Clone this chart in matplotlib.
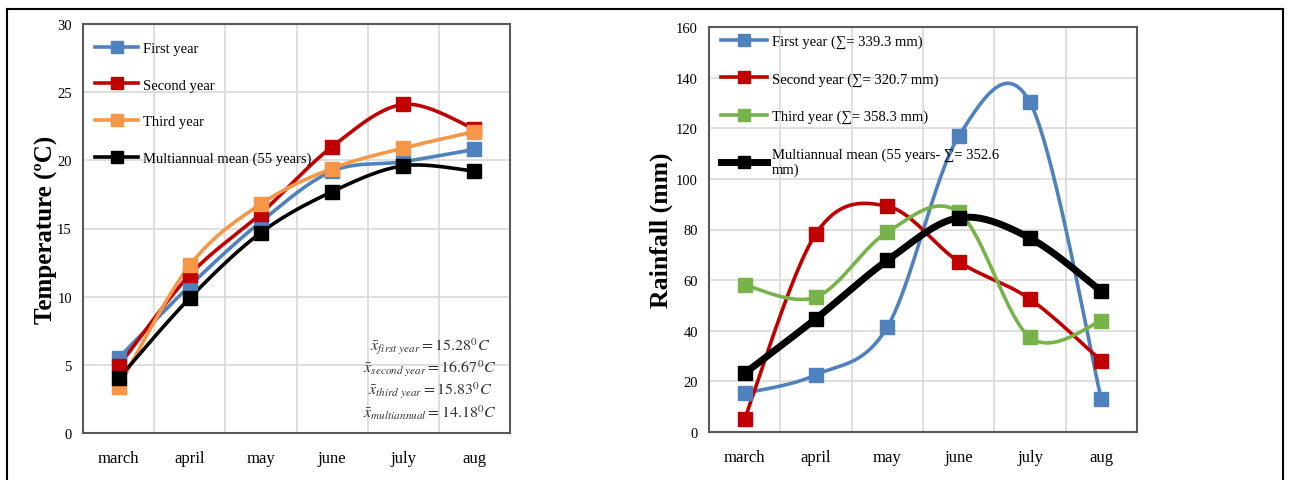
import numpy as np
import matplotlib
matplotlib.use("Agg")
import matplotlib.pyplot as plt
from matplotlib.lines import Line2D

months = ["march", "april", "may", "june", "july", "aug"]

temp_first = [5.5, 10.8, 15.5, 19.2, 19.9, 20.8]
temp_second = [4.9, 11.6, 16.1, 21.0, 24.1, 22.3]
temp_third = [3.4, 12.3, 16.8, 19.4, 20.9, 22.1]
temp_mean = [4.0, 9.9, 14.7, 17.7, 19.6, 19.2]

rain_first = [15.3, 22.6, 41.5, 116.8, 130.2, 12.9]
rain_second = [5.2, 78.4, 89.2, 67.3, 52.5, 28.1]
rain_third = [58.0, 53.3, 79.0, 86.8, 37.4, 43.8]
rain_mean = [23.2, 44.8, 67.8, 84.6, 76.6, 55.6]

temp_labels = ["First year", "Second year", "Third year", "Multiannual mean (55 years)"]
rain_labels = ["First year (\u2211= 339.3 mm)", "Second year (\u2211= 320.7 mm)",
               "Third year (\u2211= 358.3 mm)", "Multiannual mean (55 years- \u2211= 352.6\nmm)"]
temp_notes = [r"$\bar{x}_{first\ year} = 15.28^0C$",
              r"$\bar{x}_{second\ year} = 16.67^0C$",
              r"$\bar{x}_{third\ year} = 15.83^0C$",
              r"$\bar{x}_{multiannual} = 14.18^0C$"]

BLUE = "#4f81bd"
RED = "#c00000"
ORANGE = "#f79646"
GREEN = "#77b24a"
BLACK = "#000000"

plt.rcParams["font.family"] = ["Liberation Serif", "DejaVu Serif"]
plt.rcParams["mathtext.fontset"] = "stix"


def smooth(y, n=40):
    # excel-like smoothed line (catmull-rom bezier)
    x = np.arange(len(y), dtype=float)
    y = np.asarray(y, dtype=float)
    px = np.concatenate([[x[0]], x, [x[-1]]])
    py = np.concatenate([[y[0]], y, [y[-1]]])
    xs, ys = [], []
    t = np.linspace(0, 1, n)
    for i in range(len(y) - 1):
        p0 = np.array([px[i + 1], py[i + 1]])
        p3 = np.array([px[i + 2], py[i + 2]])
        c1 = p0 + (np.array([px[i + 2], py[i + 2]]) - np.array([px[i], py[i]])) / 6
        c2 = p3 - (np.array([px[i + 3], py[i + 3]]) - np.array([px[i + 1], py[i + 1]])) / 6
        b = ((1 - t) ** 3)[:, None] * p0 + (3 * (1 - t) ** 2 * t)[:, None] * c1 \
            + (3 * (1 - t) * t ** 2)[:, None] * c2 + (t ** 3)[:, None] * p3
        xs.extend(b[:, 0])
        ys.extend(b[:, 1])
    return np.array(xs), np.array(ys)


def style_axes(ax, ymax, ystep):
    ax.set_xlim(-0.5, 5.5)
    ax.set_ylim(0, ymax)
    ax.set_yticks(np.arange(0, ymax + 1, ystep))
    ax.set_xticks(range(6))
    ax.set_xticklabels(months, fontsize=12)
    ax.set_xticks(np.arange(0.5, 5.5, 1), minor=True)
    ax.tick_params(axis="both", which="both", length=0)
    ax.tick_params(axis="x", pad=12)
    ax.tick_params(axis="y", labelsize=10.5, pad=8)
    ax.grid(True, axis="y", color="#d9d9d9", linewidth=1.2)
    ax.grid(True, axis="x", which="minor", color="#d9d9d9", linewidth=1.2)
    ax.set_axisbelow(True)
    for s in ax.spines.values():
        s.set_color("#595959")
        s.set_linewidth(1.5)


fig = plt.figure(figsize=(12.9, 4.81), dpi=100)

# figure border
fig.add_artist(Line2D([7 / 1290, 7 / 1290], [0, 1 - 10 / 481], color="black", lw=1.5))
fig.add_artist(Line2D([7 / 1290, 1283 / 1290], [1 - 10 / 481, 1 - 10 / 481], color="black", lw=1.5))
fig.add_artist(Line2D([1283 / 1290, 1283 / 1290], [0, 1 - 10 / 481], color="black", lw=1.5))

# temperature
ax1 = fig.add_axes([83 / 1290, 1 - 434 / 481, 427 / 1290, 409 / 481])
series = [(temp_first, BLUE), (temp_second, RED), (temp_third, ORANGE), (temp_mean, BLACK)]
handles = []
for (vals, c), lab in zip(series, temp_labels):
    sx, sy = smooth(vals)
    ax1.plot(sx, sy, color=c, lw=2.6, zorder=3)
    ax1.plot(range(6), vals, ls="none", marker="s", ms=10, color=c, zorder=4)
    handles.append(Line2D([], [], color=c, lw=2.6, marker="s", ms=8, label=lab))
style_axes(ax1, 30, 5)
ax1.set_ylabel("Temperature (\u00baC)", fontsize=18, fontweight="bold")
ax1.yaxis.set_label_coords(-0.059, 0.5)
ax1.legend(handles=handles, loc="upper left", frameon=False, fontsize=10.5,
           handlelength=3.0, labelspacing=1.6, handletextpad=0.3,
           borderaxespad=0.4, bbox_to_anchor=(0.0, 0.985))
for i, note in enumerate(temp_notes):
    ax1.text(0.813, 0.213 - i * 0.0535, note, transform=ax1.transAxes,
             ha="center", va="center", fontsize=11.5, color="#333333")

# rainfall
ax2 = fig.add_axes([709 / 1290, 1 - 433 / 481, 428 / 1290, 405 / 481])
series = [(rain_first, BLUE, 2.6), (rain_second, RED, 2.6), (rain_third, GREEN, 2.6), (rain_mean, BLACK, 5.0)]
handles = []
for (vals, c, lw), lab in zip(series, rain_labels):
    sx, sy = smooth(vals)
    ax2.plot(sx, sy, color=c, lw=lw, zorder=3)
    ax2.plot(range(6), vals, ls="none", marker="s", ms=10, color=c, zorder=4)
    handles.append(Line2D([], [], color=c, lw=lw, marker="s", ms=8, label=lab))
style_axes(ax2, 160, 20)
ax2.set_ylabel("Rainfall (mm)", fontsize=18.5, fontweight="bold")
ax2.yaxis.set_label_coords(-0.084, 0.5)
ax2.legend(handles=handles, loc="upper left", frameon=False, fontsize=10.5,
           handlelength=3.2, labelspacing=1.65, handletextpad=0.3,
           borderaxespad=0.4, bbox_to_anchor=(0.0, 1.01))

fig.savefig("out.png", dpi=100)
